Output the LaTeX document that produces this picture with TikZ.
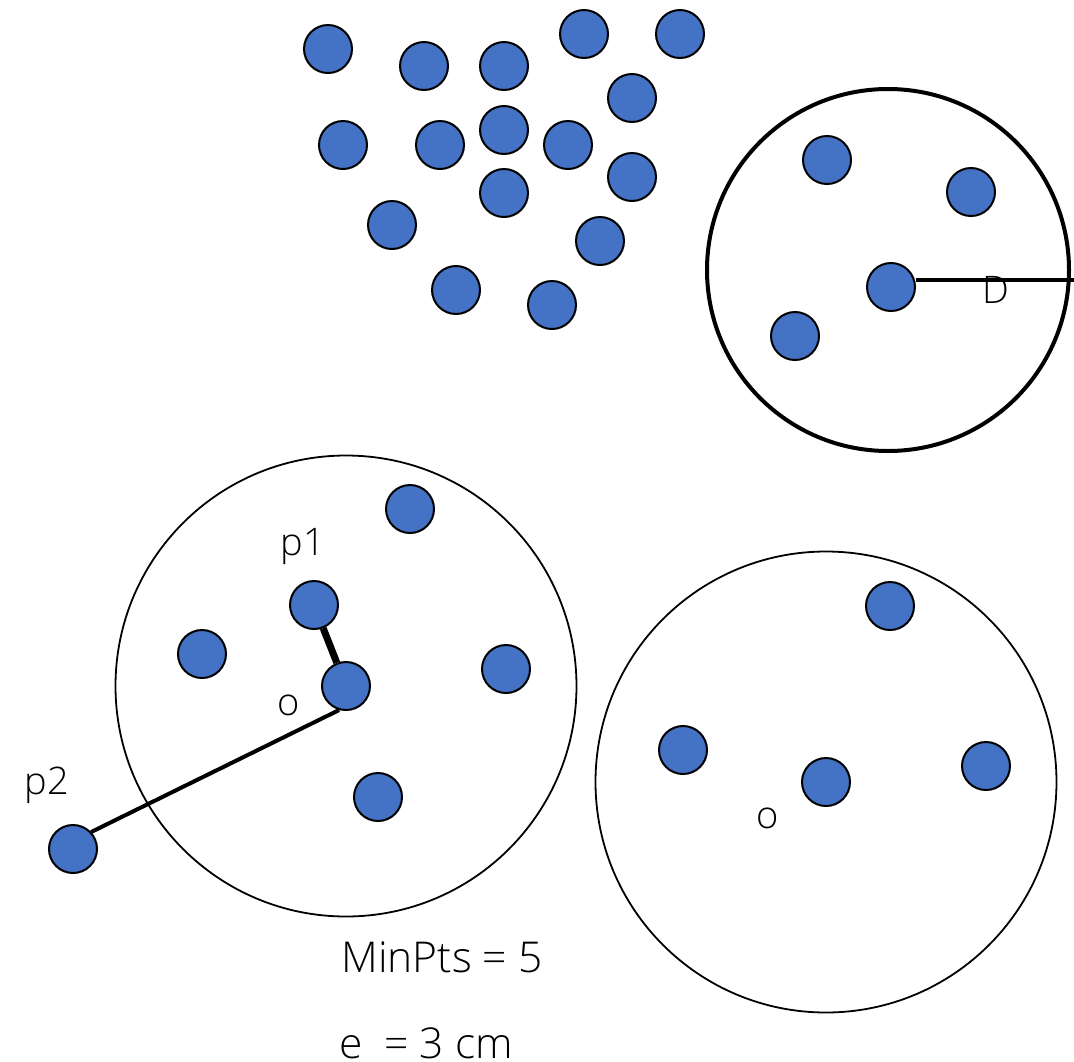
\documentclass[tikz,border=0pt]{standalone}
\usepackage{fontspec}
\setmainfont{Open Sans}[UprightFont={* Light}]
\definecolor{dotblue}{HTML}{4472C4}
\begin{document}
\begin{tikzpicture}[x=1pt,y=-1pt,
  pt/.style={circle,draw=black,line width=2pt,fill=dotblue,minimum size=48pt,inner sep=0pt},
  lbl/.style={font=\fontsize{38}{44}\selectfont,inner sep=0pt},
  big/.style={font=\fontsize{42.5}{48}\selectfont,inner sep=0pt}]
\useasboundingbox (0,0) rectangle (1074,1061);
% circles
\draw[line width=4pt] (888,270) circle (181);
\draw[line width=1.8pt] (346,686) circle (230.5);
\draw[line width=1.8pt] (826,782) circle (230.5);
% top cluster
\foreach \x/\y [count=\i] in {328/49,424/66,504/66,584/34,680/34,632/98,343/145,440/145,504/130,568/145,632/177,504/193,392/225,600/241,456/290,552/305}
  \node[pt] (c\i) at (\x,\y) {};
% top right circle
\node[pt] (r1) at (827,160) {};
\node[pt] (r2) at (971,192) {};
\node[pt] (r3) at (891,287) {};
\node[pt] (r4) at (795,336) {};
\coordinate (redge) at (1074,280);
\draw[line width=4pt] (r3.east |- redge) -- (redge);
\node[lbl] (dl) at (996,290) {D};
% bottom left circle
\node[pt] (a1) at (410,509) {};
\node[pt] (p1) at (314,605) {};
\node[pt] (a2) at (202,654) {};
\node[pt] (o1) at (346,686) {};
\node[pt] (a3) at (506,669) {};
\node[pt] (a4) at (378,797) {};
\node[pt] (p2) at (73,849) {};
\draw[line width=7pt] (p1) -- (o1);
\draw[line width=4pt] (o1.-106) -- (p2.43);
\node[lbl] (p1l) at (303,546) {p1};
\node[lbl] (o1l) at (289,705) {o};
\node[lbl] (p2l) at (47,785) {p2};
% bottom right circle
\node[pt] (b1) at (890,606) {};
\node[pt] (b2) at (683,750) {};
\node[pt] (o2) at (826,782) {};
\node[pt] (b3) at (986,766) {};
\node[lbl] (o2l) at (768,818) {o};
% text
\node[big] (mp) at (442,957) {MinPts = 5};
\node[big] (eps) at (426,1043) {e\ \ = 3 cm};
\end{tikzpicture}
\end{document}
